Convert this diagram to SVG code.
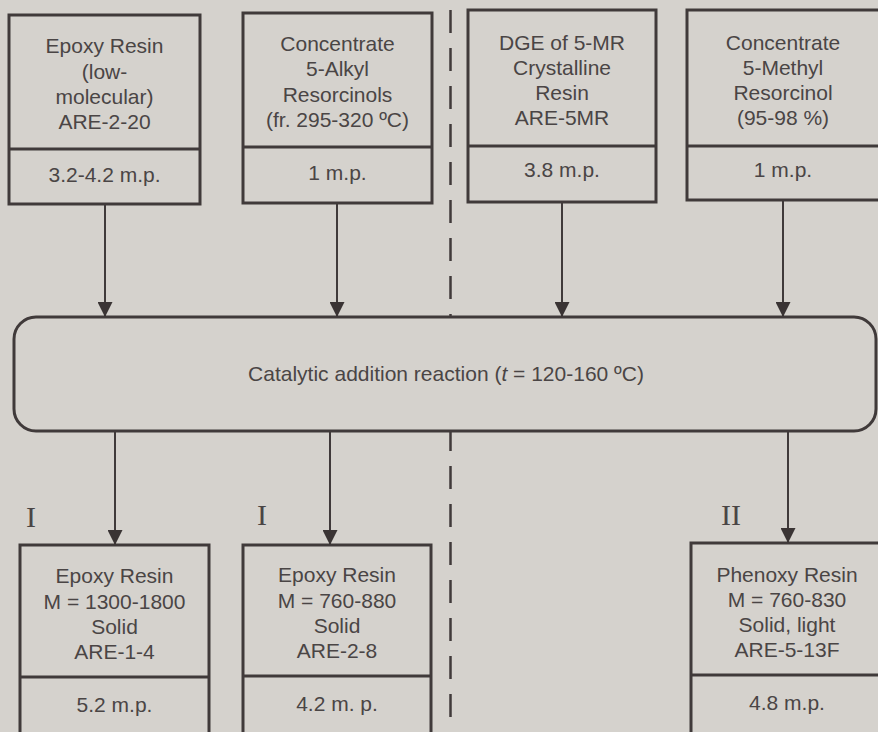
<svg xmlns="http://www.w3.org/2000/svg" width="878" height="732" viewBox="0 0 878 732">
<style>
.bx{fill:none;stroke:#403a3a;stroke-width:3}
.rr{fill:#d5d2cd;stroke:#403a3a;stroke-width:3}
.t{font-family:"Liberation Sans",Arial,sans-serif;font-size:21px;fill:#4a4545;text-anchor:middle}
.rn{font-family:"Liberation Serif","Times New Roman",serif;font-size:30px;fill:#4a4545;text-anchor:middle}
.ln{stroke:#403a3a;stroke-width:2;fill:none}
.dash{stroke:#403a3a;stroke-width:2.5;stroke-dasharray:23 15;fill:none}
</style>
<defs>
<marker id="ah" markerWidth="16" markerHeight="15" refX="15" refY="7.5" orient="auto" markerUnits="userSpaceOnUse">
<path d="M0,0 L15,7.5 L0,15 Z" fill="#3a3434"/>
</marker>
</defs>
<rect width="878" height="732" fill="#d5d2cd"/>
<line class="dash" x1="450.5" y1="10" x2="450.5" y2="732"/>

<g id="n1">
<rect class="bx" x="9" y="15" width="191" height="189"/>
<line class="bx" x1="9" y1="149" x2="200" y2="149"/>
<text class="t" x="104.5" y="53">Epoxy Resin</text>
<text class="t" x="104.5" y="79">(low-</text>
<text class="t" x="104.5" y="104">molecular)</text>
<text class="t" x="104.5" y="129">ARE-2-20</text>
<text class="t" x="104.5" y="182">3.2-4.2 m.p.</text>
</g>
<g id="n2">
<rect class="bx" x="243" y="13" width="189" height="190"/>
<line class="bx" x1="243" y1="147" x2="432" y2="147"/>
<text class="t" x="337.5" y="51">Concentrate</text>
<text class="t" x="337.5" y="76">5-Alkyl</text>
<text class="t" x="337.5" y="102">Resorcinols</text>
<text class="t" x="337.5" y="127">(fr. 295-320 ºC)</text>
<text class="t" x="337.5" y="180">1 m.p.</text>
</g>
<g id="n3">
<rect class="bx" x="468" y="10" width="188" height="192"/>
<line class="bx" x1="468" y1="146" x2="656" y2="146"/>
<text class="t" x="562" y="50">DGE of 5-MR</text>
<text class="t" x="562" y="75">Crystalline</text>
<text class="t" x="562" y="100">Resin</text>
<text class="t" x="562" y="125">ARE-5MR</text>
<text class="t" x="562" y="177">3.8 m.p.</text>
</g>
<g id="n4">
<rect class="bx" x="687" y="10" width="200" height="190"/>
<line class="bx" x1="687" y1="146" x2="878" y2="146"/>
<text class="t" x="783" y="50">Concentrate</text>
<text class="t" x="783" y="75">5-Methyl</text>
<text class="t" x="783" y="100">Resorcinol</text>
<text class="t" x="783" y="125">(95-98 %)</text>
<text class="t" x="783" y="177">1 m.p.</text>
</g>
<g id="reaction">
<rect class="rr" x="14" y="317" width="862" height="114" rx="22" ry="22"/>
<text class="t" x="446" y="381">Catalytic addition reaction (<tspan font-style="italic">t</tspan> = 120-160 ºC)</text>
</g>
<g id="n5">
<rect class="bx" x="20" y="545" width="189" height="200"/>
<line class="bx" x1="20" y1="677" x2="209" y2="677"/>
<text class="t" x="114.5" y="583">Epoxy Resin</text>
<text class="t" x="114.5" y="609">M = 1300-1800</text>
<text class="t" x="114.5" y="634">Solid</text>
<text class="t" x="114.5" y="659">ARE-1-4</text>
<text class="t" x="114.5" y="712">5.2 m.p.</text>
</g>
<g id="n6">
<rect class="bx" x="243" y="545" width="188" height="200"/>
<line class="bx" x1="243" y1="676" x2="431" y2="676"/>
<text class="t" x="337" y="582">Epoxy Resin</text>
<text class="t" x="337" y="608">M = 760-880</text>
<text class="t" x="337" y="633">Solid</text>
<text class="t" x="337" y="658">ARE-2-8</text>
<text class="t" x="337" y="711">4.2 m. p.</text>
</g>
<g id="n7">
<rect class="bx" x="691" y="543" width="200" height="200"/>
<line class="bx" x1="691" y1="675" x2="878" y2="675"/>
<text class="t" x="787" y="582">Phenoxy Resin</text>
<text class="t" x="787" y="607">M = 760-830</text>
<text class="t" x="787" y="632">Solid, light</text>
<text class="t" x="787" y="657">ARE-5-13F</text>
<text class="t" x="787" y="710">4.8 m.p.</text>
</g>
<g id="labels">
<text class="rn" x="31" y="527">I</text>
<text class="rn" x="262" y="525">I</text>
<text class="rn" x="731" y="525">II</text>
</g>
<g id="connectors">
<line class="ln" x1="105" y1="204" x2="105" y2="317" marker-end="url(#ah)"/>
<line class="ln" x1="337" y1="203" x2="337" y2="317" marker-end="url(#ah)"/>
<line class="ln" x1="562" y1="202" x2="562" y2="317" marker-end="url(#ah)"/>
<line class="ln" x1="783" y1="200" x2="783" y2="317" marker-end="url(#ah)"/>
<line class="ln" x1="115" y1="431" x2="115" y2="545" marker-end="url(#ah)"/>
<line class="ln" x1="330" y1="431" x2="330" y2="545" marker-end="url(#ah)"/>
<line class="ln" x1="788" y1="431" x2="788" y2="543" marker-end="url(#ah)"/>
</g>
</svg>
